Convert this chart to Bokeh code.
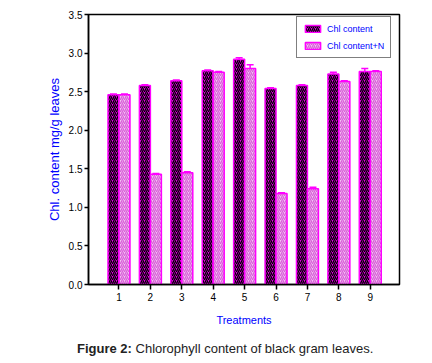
from bokeh.plotting import figure
from bokeh.layouts import column
from bokeh.models import (ColumnDataSource, Range1d, FixedTicker, Legend,
                          LegendItem, Whisker, NumeralTickFormatter, Div)
from bokeh.embed import file_html
from bokeh.resources import INLINE

# ---- data ----
treatments = [1, 2, 3, 4, 5, 6, 7, 8, 9]
chl = [2.46, 2.58, 2.64, 2.77, 2.92, 2.54, 2.58, 2.73, 2.76]
chl_err = [0.01, 0.01, 0.01, 0.01, 0.02, 0.01, 0.01, 0.02, 0.04]
chl_n = [2.46, 1.43, 1.45, 2.75, 2.80, 1.18, 1.24, 2.63, 2.76]
chl_n_err = [0.01, 0.01, 0.01, 0.01, 0.05, 0.01, 0.02, 0.01, 0.01]
y_ticks = [0.0, 0.5, 1.0, 1.5, 2.0, 2.5, 3.0, 3.5]
series_names = ["Chl content", "Chl content+N"]
x_title = "Treatments"
y_title = "Chl. content mg/g leaves"
caption_bold = "Figure 2:"
caption_rest = "Chlorophyll content of black gram leaves."

FONT = "Liberation Sans"
MAG = "#ff00ff"
BW = 0.35

src1 = ColumnDataSource(dict(x=[t - BW / 2 for t in treatments], top=chl,
                             up=[v + e for v, e in zip(chl, chl_err)]))
src2 = ColumnDataSource(dict(x=[t + BW / 2 for t in treatments], top=chl_n,
                             up=[v + e for v, e in zip(chl_n, chl_n_err)]))

p = figure(width=432, height=338, output_backend="svg", toolbar_location=None,
           x_range=Range1d(0.03, 9.93), y_range=Range1d(0, 3.5),
           min_border_left=88, min_border_right=33, min_border_top=14,
           min_border_bottom=54)
p.grid.visible = False
p.outline_line_color = "black"
p.outline_line_width = 1.5
p.background_fill_color = "white"
p.border_fill_color = "white"

r1 = p.vbar(x="x", top="top", width=BW, source=src1, fill_color="#dd00dd",
            line_color=MAG, line_width=1.5, hatch_pattern="/", hatch_color="black",
            hatch_scale=4, hatch_weight=1.3)
r2 = p.vbar(x="x", top="top", width=BW, source=src2, fill_color="#f4c0f4",
            line_color=MAG, line_width=1.5, hatch_pattern="/", hatch_color="#d860d8",
            hatch_scale=4, hatch_weight=1.3)

for s in (src1, src2):
    w = Whisker(source=s, base="x", upper="up", lower="top", line_color=MAG,
                line_width=1.5)
    w.upper_head.line_color = MAG
    w.upper_head.line_width = 1.5
    w.upper_head.size = 7
    w.lower_head = None
    p.add_layout(w)

# axes
for ax in (p.xaxis[0], p.yaxis[0]):
    ax.axis_line_color = "black"
    ax.axis_line_width = 1.5
    ax.major_tick_line_color = "black"
    ax.major_tick_line_width = 1.5
    ax.minor_tick_line_color = None
    ax.major_tick_in = 0
    ax.major_label_text_font = FONT
    ax.major_label_text_font_size = "10px"
    ax.major_label_text_color = "black"
    ax.axis_label_text_font = FONT
    ax.axis_label_text_font_style = "normal"
    ax.axis_label_text_color = "#0000ff"

p.xaxis.ticker = FixedTicker(ticks=treatments)
p.xaxis.major_tick_out = 5
p.xaxis.major_label_standoff = 3
p.xaxis.axis_label = x_title
p.xaxis.axis_label_text_font_size = "11px"
p.xaxis.axis_label_standoff = 10

p.yaxis.ticker = FixedTicker(ticks=y_ticks)
p.yaxis.formatter = NumeralTickFormatter(format="0.0")
p.yaxis.major_tick_out = 4
p.yaxis.major_label_standoff = 2
p.yaxis.axis_label = y_title
p.yaxis.axis_label_text_font_size = "13px"
p.yaxis.axis_label_standoff = 4

legend = Legend(items=[LegendItem(label=series_names[0], renderers=[r1]),
                       LegendItem(label=series_names[1], renderers=[r2])],
                location=(208, 226), orientation="vertical")
legend.border_line_color = "black"
legend.border_line_width = 1.5
legend.background_fill_color = "white"
legend.background_fill_alpha = 1
legend.label_text_font = FONT
legend.label_text_font_size = "9px"
legend.label_text_color = "#0000ff"
legend.glyph_width = 19
legend.glyph_height = 9
legend.label_height = 11
legend.label_standoff = 5
legend.spacing = 6
legend.padding = 6
legend.margin = 0
p.add_layout(legend)

# caption beneath the chart
cap = Div(text=f"<b>{caption_bold}</b> {caption_rest}", width=432, height=25,
          margin=(0, 0, 0, 0),
          styles={"font-family": "'Liberation Sans', Arial, sans-serif",
                  "font-size": "13px", "color": "#222222",
                  "padding-left": "77px", "padding-top": "3px",
                  "line-height": "15px", "white-space": "nowrap",
                  "box-sizing": "border-box"})

layout = column(p, cap, spacing=0)
open("out.html", "w").write(file_html(layout, INLINE))
